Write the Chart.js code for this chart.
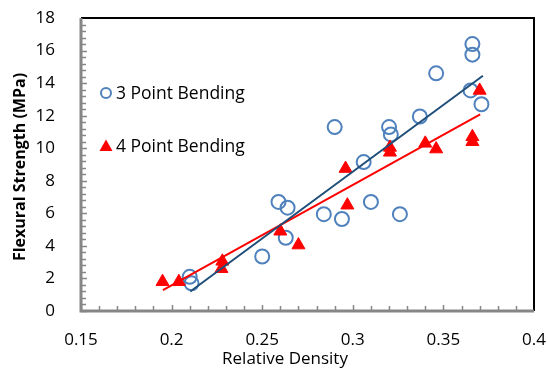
<!DOCTYPE html>
<html>
<head>
<meta charset="utf-8">
<script src="https://cdn.jsdelivr.net/npm/chart.js@4/dist/chart.umd.min.js"></script>
<style>
  html, body { margin: 0; padding: 0; background: #fff; }
  #wrap { width: 548px; height: 369px; }
</style>
</head>
<body>
<div id="wrap"><canvas id="flexChart" width="548" height="369"></canvas></div>
<script>
// 3 point bending (blue circles)
const density3  = [0.210, 0.211, 0.250, 0.259, 0.264, 0.263, 0.284, 0.294, 0.310, 0.326,
                   0.290, 0.320, 0.321, 0.337, 0.346, 0.366, 0.366, 0.365, 0.371, 0.306];
const strength3 = [2.1, 1.7, 3.35, 6.7, 6.35, 4.5, 5.95, 5.65, 6.7, 5.95,
                   11.3, 11.3, 10.85, 11.95, 14.6, 16.4, 15.75, 13.55, 12.7, 9.15];

// 4 point bending (red triangles)
const density4  = [0.195, 0.204, 0.228, 0.2275, 0.260, 0.270, 0.297, 0.296,
                   0.3205, 0.3205, 0.340, 0.346, 0.366, 0.366, 0.370];
const strength4 = [1.8, 1.8, 3.05, 2.6, 4.9, 4.05, 6.5, 8.75,
                   10.05, 9.75, 10.3, 9.95, 10.7, 10.4, 13.55];

// linear trend lines (end points)
const trend3X = [0.2103, 0.3718];
const trend3Y = [1.2, 14.45];
const trend4X = [0.1952, 0.3703];
const trend4Y = [1.28, 12.08];

const xTicks = { min: 0.15, max: 0.4, step: 0.05 };
const yTicks = { min: 0, max: 18, step: 2 };

const toPoints = (xs, ys) => xs.map((x, i) => ({ x: x, y: ys[i] }));

const FONT = '"Open Sans", Lato, sans-serif';

// frame, inner ticks, legend and axis titles
const decor = {
  id: 'decor',
  afterDraw(chart) {
    const ctx = chart.ctx;
    const { left, right, top, bottom } = chart.chartArea;
    const xs = chart.scales.x, ys = chart.scales.y;
    ctx.save();

    // top & right border
    ctx.strokeStyle = '#000';
    ctx.lineWidth = 2;
    ctx.beginPath();
    ctx.moveTo(left, top);
    ctx.lineTo(right, top);
    ctx.lineTo(right, bottom);
    ctx.stroke();

    // axes
    ctx.strokeStyle = '#868686';
    ctx.lineWidth = 3;
    ctx.beginPath();
    ctx.moveTo(left, top);
    ctx.lineTo(left, bottom);
    ctx.lineTo(right, bottom);
    ctx.stroke();

    // ticks, 5 minor per major, pointing inward
    ctx.lineWidth = 1.5;
    ctx.beginPath();
    for (let v = yTicks.min; v < yTicks.max - 1e-9; v += yTicks.step) {
      for (let k = 0; k < 5; k++) {
        const py = Math.round(ys.getPixelForValue(v + k * yTicks.step / 5)) + 0.5;
        const len = k === 0 ? 6 : 5;
        ctx.moveTo(left, py);
        ctx.lineTo(left + len, py);
      }
    }
    for (let v = xTicks.min; v < xTicks.max - 1e-9; v += xTicks.step) {
      for (let k = 0; k < 5; k++) {
        const px = Math.round(xs.getPixelForValue(v + k * xTicks.step / 5)) + 0.5;
        const len = k === 0 ? 6 : 5;
        ctx.moveTo(px, bottom);
        ctx.lineTo(px, bottom - len);
      }
    }
    ctx.stroke();

    // legend inside the plot
    ctx.fillStyle = '#000';
    ctx.font = '17.5px ' + FONT;
    ctx.textBaseline = 'middle';
    ctx.textAlign = 'left';

    ctx.strokeStyle = '#4F81BD';
    ctx.lineWidth = 2;
    ctx.beginPath();
    ctx.arc(106, 93, 5, 0, Math.PI * 2);
    ctx.stroke();
    ctx.fillText('3 Point Bending', 116, 94);

    ctx.fillStyle = '#FF0000';
    ctx.beginPath();
    ctx.moveTo(106, 139.5);
    ctx.lineTo(112.5, 151);
    ctx.lineTo(99.5, 151);
    ctx.closePath();
    ctx.fill();
    ctx.fillStyle = '#000';
    ctx.fillText('4 Point Bending', 116, 147);

    // axis titles
    ctx.font = '17px ' + FONT;
    ctx.textAlign = 'center';
    ctx.fillText('Relative Density', 285, 359);

    ctx.font = 'bold 16px ' + FONT;
    ctx.translate(20, 167);
    ctx.rotate(-Math.PI / 2);
    ctx.fillText('Flexural Strength (MPa)', 0, 0);

    ctx.restore();
  }
};

new Chart(document.getElementById('flexChart'), {
  type: 'scatter',
  data: {
    datasets: [
      {
        label: 'Linear (3 Point Bending)',
        data: toPoints(trend3X, trend3Y),
        showLine: true,
        borderColor: '#1F4E79',
        borderWidth: 2,
        pointRadius: 0
      },
      {
        label: 'Linear (4 Point Bending)',
        data: toPoints(trend4X, trend4Y),
        showLine: true,
        borderColor: '#FF0000',
        borderWidth: 2,
        pointRadius: 0
      },
      {
        label: '4 Point Bending',
        data: toPoints(density4, strength4),
        pointStyle: 'triangle',
        pointRadius: 7.5,
        backgroundColor: '#FF0000',
        borderColor: '#FF0000',
        borderWidth: 1
      },
      {
        label: '3 Point Bending',
        data: toPoints(density3, strength3),
        pointStyle: 'circle',
        pointRadius: 7,
        backgroundColor: 'rgba(255,255,255,0)',
        borderColor: '#4F81BD',
        borderWidth: 2
      }
    ]
  },
  options: {
    responsive: false,
    animation: false,
    devicePixelRatio: 1,
    layout: { padding: { top: 18, right: 14, left: 0, bottom: 0 } },
    plugins: {
      legend: { display: false },
      tooltip: { enabled: false }
    },
    scales: {
      x: {
        type: 'linear',
        min: xTicks.min,
        max: xTicks.max,
        grid: { display: false },
        border: { display: false },
        ticks: {
          stepSize: xTicks.step,
          padding: 11,
          color: '#000',
          font: { family: FONT, size: 17 },
          callback: v => String(+v.toFixed(2))
        },
        afterFit: s => {
          s.height = 58;
          s.paddingLeft = 0;
          s.paddingRight = 0;
        }
      },
      y: {
        min: yTicks.min,
        max: yTicks.max,
        grid: { display: false },
        border: { display: false },
        ticks: {
          stepSize: yTicks.step,
          padding: 18,
          color: '#000',
          font: { family: FONT, size: 17 }
        },
        afterFit: s => {
          s.width = 81;
          s.paddingTop = 0;
          s.paddingBottom = 0;
        }
      }
    }
  },
  plugins: [decor]
});
</script>
</body>
</html>
